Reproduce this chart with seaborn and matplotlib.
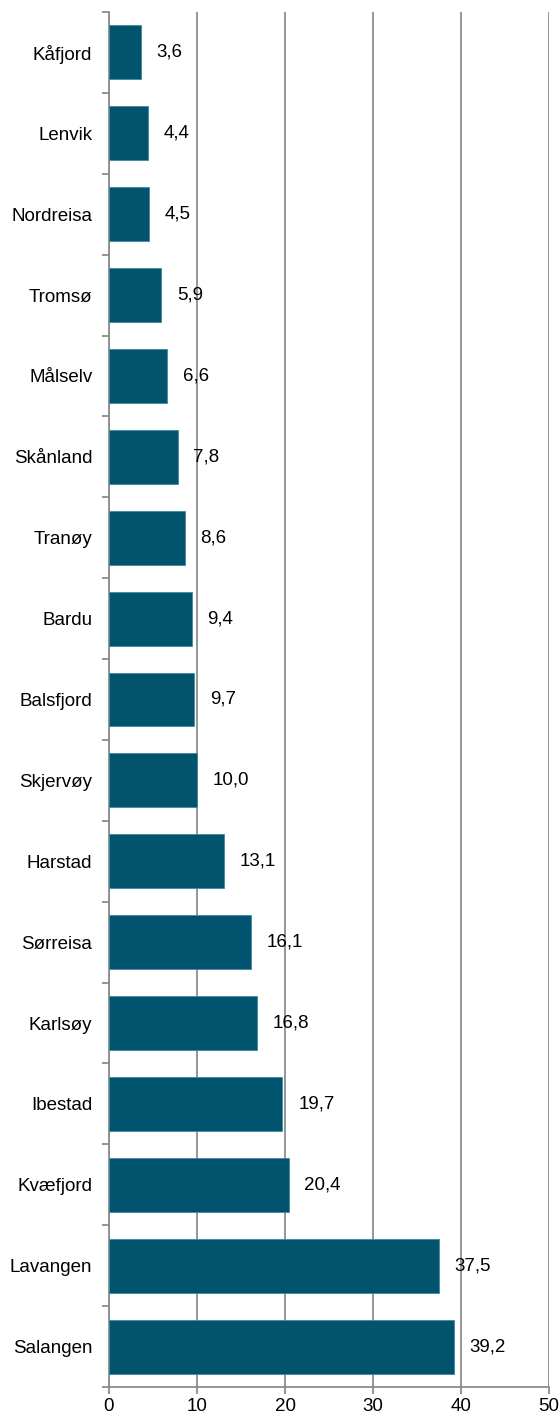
import matplotlib
matplotlib.use("Agg")
import matplotlib.pyplot as plt
import seaborn as sns
import pandas as pd
import numpy as np
from matplotlib.ticker import FixedLocator

categories = ["Kåfjord", "Lenvik", "Nordreisa", "Tromsø", "Målselv", "Skånland",
              "Tranøy", "Bardu", "Balsfjord", "Skjervøy", "Harstad", "Sørreisa",
              "Karlsøy", "Ibestad", "Kvæfjord", "Lavangen", "Salangen"]
values = [3.6, 4.4, 4.5, 5.9, 6.6, 7.8, 8.6, 9.4, 9.7, 10.0, 13.1, 16.1,
          16.8, 19.7, 20.4, 37.5, 39.2]
xticks = [0, 10, 20, 30, 40, 50]

sns.set_style("white")
plt.rcParams['font.family'] = ['Liberation Sans', 'DejaVu Sans']

df = pd.DataFrame({"kommune": categories, "verdi": values})

fig = plt.figure(figsize=(5.6, 14.16), dpi=100)
left, right, bottom, top = 109 / 560, 549 / 560, 1 - 1387 / 1416, 1 - 12 / 1416
ax = fig.add_axes([left, bottom, right - left, top - bottom])

sns.barplot(data=df, x="verdi", y="kommune", orient="h", color="#02536D",
            saturation=1, width=0.667, ax=ax, edgecolor="#3F8AA0", linewidth=0.6,
            zorder=3)

fs = 13.5
ax.set_xlim(0, 50)
ax.set_ylim(len(categories) - 0.5, -0.5)
ax.set_xticks(xticks)
ax.set_xticklabels([str(t) for t in xticks], fontsize=fs, color="black")
ax.xaxis.grid(True, color="#8C8C8C", linewidth=1.3, zorder=0)
ax.yaxis.grid(False)
ax.set_xlabel("")
ax.set_ylabel("")

ax.set_yticks(range(len(categories)))
ax.set_yticklabels(categories, fontsize=fs, color="black")
ax.yaxis.set_minor_locator(FixedLocator(np.arange(-0.5, len(categories), 1.0)))
ax.tick_params(axis="y", which="major", length=0, pad=12)
ax.tick_params(axis="y", which="minor", length=5, width=1.3, color="#8C8C8C", left=True)
ax.tick_params(axis="x", which="major", length=5, width=1.3, color="#8C8C8C", bottom=True, pad=3)

for side in ["top", "right"]:
    ax.spines[side].set_visible(False)
for side in ["left", "bottom"]:
    ax.spines[side].set_color("#8C8C8C")
    ax.spines[side].set_linewidth(1.3)

for i, v in enumerate(values):
    ax.text(v + 1.8, i, f"{v:.1f}".replace(".", ","), va="center", ha="left",
            fontsize=fs, color="black", zorder=5)

fig.savefig("out.png", dpi=100)
